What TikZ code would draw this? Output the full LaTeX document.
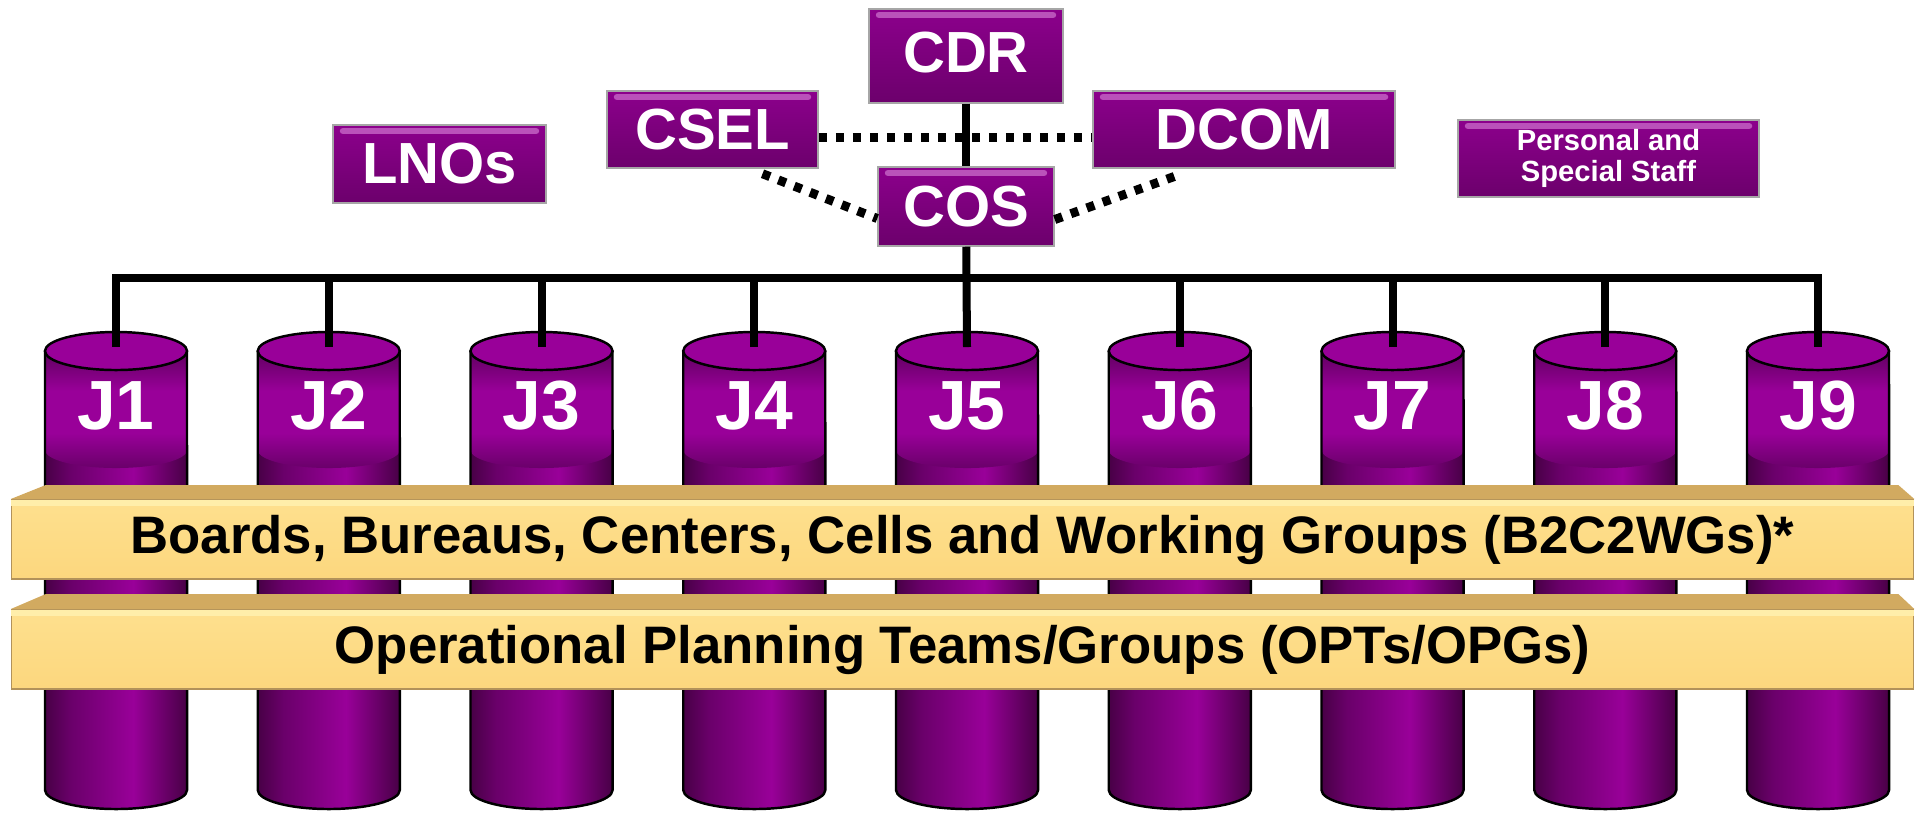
\documentclass[tikz,border=0pt]{standalone}
\usepackage{fontspec}
\setmainfont{Liberation Sans}
\usetikzlibrary{calc}
\definecolor{PurpleTop}{RGB}{153,0,153}
\definecolor{PurpleMid}{RGB}{153,0,153}
\definecolor{PurpleDark}{RGB}{106,0,106}
\definecolor{PurpleDeep}{RGB}{72,0,70}
\definecolor{BoxTop}{RGB}{140,0,140}
\definecolor{BoxMid}{RGB}{156,0,156}
\definecolor{BoxBot}{RGB}{108,0,108}
\definecolor{BoxShine}{RGB}{186,82,186}
\definecolor{BarFace}{RGB}{254,224,142}
\definecolor{BarFaceLow}{RGB}{252,215,126}
\definecolor{BarTop}{RGB}{210,170,96}
\definecolor{BarEdge}{RGB}{178,146,90}
\definecolor{BarShine}{RGB}{255,238,170}
\pgfdeclarehorizontalshading{cylbody}{100bp}{color(0bp)=(PurpleDeep); color(25bp)=(PurpleDeep);
  color(34bp)=(PurpleDark); color(56bp)=(PurpleMid); color(75bp)=(PurpleDeep); color(100bp)=(PurpleDeep)}
\pgfdeclareverticalshading{cylband}{100bp}{color(0bp)=(PurpleDark); color(25bp)=(PurpleDark);
  color(40bp)=(PurpleMid); color(58bp)=(PurpleMid); color(72bp)=(PurpleDark); color(100bp)=(PurpleDark)}

\begin{document}
\begin{tikzpicture}[x=0.01cm,y=-0.01cm,
  staffbox/.style={draw=black!35, line width=0.4pt, top color=BoxTop, middle color=BoxMid,
    bottom color=BoxBot, text=white, inner sep=0pt, font=\bfseries\fontsize{16.5}{18}\selectfont,
    path picture={\draw[BoxShine, line width=1.8pt, line cap=round]
      ([xshift=0.1cm,yshift=-0.06cm]path picture bounding box.north west) --
      ([xshift=-0.1cm,yshift=-0.06cm]path picture bounding box.north east);}},
  jlabel/.style={text=white, inner sep=0pt, font=\bfseries\fontsize{19.8}{22}\selectfont},
  barfront/.style={draw=BarEdge, line width=0.5pt, top color=BarFace, bottom color=BarFaceLow,
    minimum width=19.01cm, minimum height=0.79cm, inner sep=0pt, font=\bfseries\fontsize{15}{17}\selectfont},
  solidlink/.style={line width=0.08cm},
  dotlink/.style={line width=0.09cm, dash pattern=on 0.08cm off 0.09cm}]
\useasboundingbox (0,0) rectangle (1923,817);

% the nine staff sections
\foreach \i in {1,...,9}{
  \pgfmathsetmacro\cx{116+(\i-1)*212.75}
  \shade[shading=cylbody] (\cx-71,351) -- (\cx-71,790)
    arc[start angle=180,end angle=360,x radius=0.71cm,y radius=0.19cm] -- (\cx+71,351) -- cycle;
  \shade[shading=cylband] (\cx-71,351) -- (\cx-71,450)
    arc[start angle=180,end angle=360,x radius=0.71cm,y radius=0.18cm] -- (\cx+71,351) -- cycle;
  \draw[line width=0.7pt] (\cx-71,351) -- (\cx-71,790)
    arc[start angle=180,end angle=360,x radius=0.71cm,y radius=0.19cm] -- (\cx+71,351);
  \filldraw[fill=PurpleTop, line width=0.7pt] (\cx,351) ellipse[x radius=0.71cm,y radius=0.19cm];
  \node[jlabel] (j\i) at (\cx,406) {J\i};
  \coordinate (t\i) at (\cx,347);
}

\node[barfront] (b2c2) at (962.5,539.5) {Boards, Bureaus, Centers, Cells and Working Groups (B2C2WGs)*};
\fill[BarTop] (b2c2.north west) -- ++(0.35cm,0.14cm) -- ([xshift=-0.16cm,yshift=0.14cm]b2c2.north east)
  -- (b2c2.north east) -- cycle;
\draw[BarShine, line width=1.5pt] ([yshift=-0.04cm]b2c2.north west) -- ([yshift=-0.04cm]b2c2.north east);

\node[barfront] (opt) at (962.5,649.5) {Operational Planning Teams/Groups (OPTs/OPGs)};
\fill[BarTop] (opt.north west) -- ++(0.35cm,0.15cm) -- ([xshift=-0.16cm,yshift=0.15cm]opt.north east)
  -- (opt.north east) -- cycle;
\draw[BarShine, line width=1.5pt] ([yshift=-0.04cm]opt.north west) -- ([yshift=-0.04cm]opt.north east);

% command group
\node[staffbox, minimum width=1.94cm, minimum height=0.94cm] (cdr) at (966,56) {\raisebox{0.07cm}{CDR}};
\node[staffbox, minimum width=1.76cm, minimum height=0.79cm] (cos) at (966,206.5) {COS};
\node[staffbox, minimum width=2.11cm, minimum height=0.77cm] (csel) at (712.5,129.5) {CSEL};
\node[staffbox, minimum width=3.02cm, minimum height=0.77cm] (dcom) at (1244,129.5) {DCOM};
\node[staffbox, minimum width=2.13cm, minimum height=0.78cm] (lnos) at (439.5,164) {LNOs};
\node[staffbox, minimum width=3.01cm, minimum height=0.77cm, align=center,
  font=\bfseries\fontsize{8.3}{8.8}\selectfont] (staff) at (1608.5,158.5) {Personal and\\Special Staff};

\draw[dotlink] ([yshift=-0.075cm]csel.east) -- ([yshift=-0.075cm]dcom.west);
\draw[dotlink] ([xshift=0.5cm,yshift=-0.05cm]csel.south) -- ([yshift=-0.12cm]cos.west);
\draw[dotlink] ([yshift=-0.13cm]cos.east) -- ([xshift=-0.62cm,yshift=-0.05cm]dcom.south);
\draw[solidlink] (cdr) -- (cos);
\draw[solidlink] (cos) -- (t5);

\coordinate (bus) at (966,278);
\draw[solidlink] (t1) |- (bus) -| (t9);
\foreach \i in {2,3,4,6,7,8} \draw[solidlink] (t\i) -- (t\i |- bus);

\end{tikzpicture}
\end{document}
